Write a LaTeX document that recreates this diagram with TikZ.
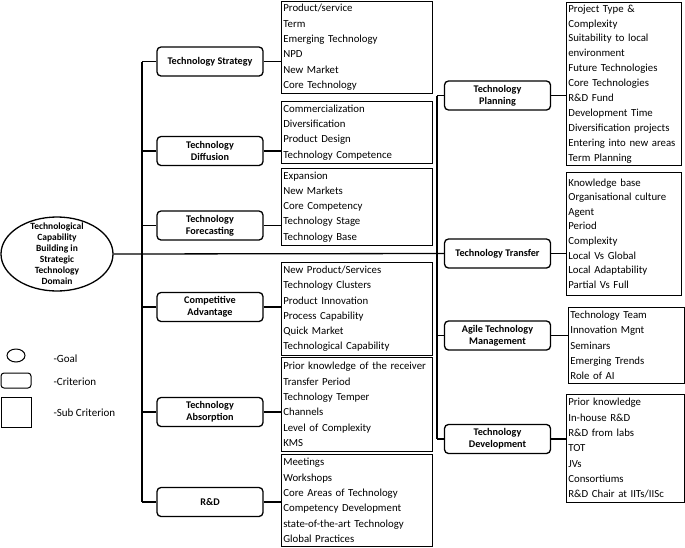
\documentclass[tikz,border=0pt]{standalone}
\usepackage{fontspec}
\setmainfont{Carlito}
\usetikzlibrary{shapes.geometric}

\begin{document}
\begin{tikzpicture}[x=1pt,y=-1pt,
  crit/.style={draw, line width=1.3pt, rounded corners=4pt, minimum width=106pt, minimum height=29pt, inner sep=1pt, align=center, font=\fontsize{10.2}{12}\selectfont\bfseries},
  sub/.style={draw, line width=0.7pt, anchor=north west, align=left, inner xsep=2pt, inner ysep=0pt, font=\fontsize{10.8}{15.3}\selectfont},
  conn/.style={line width=1.3pt},
  key/.style={anchor=west, font=\fontsize{11}{12}\selectfont}]
\useasboundingbox (0,0) rectangle (685,547);

% goal
\node[ellipse, draw, line width=1.3pt, minimum width=112pt, minimum height=74pt] (goal) at (57,254) {};
\node[align=center, font=\fontsize{9.5}{11}\selectfont\bfseries] (goaltxt) at (goal) {Technological\\Capability\\Building in\\Strategic\\Technology\\Domain};

% criteria, left
\node[crit] (stg) at (210,61.5) {Technology Strategy};
\node[crit] (dif) at (210,151) {Technology\\Diffusion};
\node[crit] (fore) at (210,225.5) {Technology\\Forecasting};
\node[crit] (com) at (210,307) {Competitive\\Advantage};
\node[crit] (abs) at (210,412) {Technology\\Absorption};
\node[crit] (rnd) at (210,502) {R\&D};

% criteria, right
\node[crit] (pla) at (497.5,95.5) {Technology\\Planning};
\node[crit] (tra) at (497.5,253.5) {Technology Transfer};
\node[crit] (agi) at (497.5,335.5) {Agile Technology\\Management};
\node[crit] (dev) at (497.5,439) {Technology\\Development};

% sub criteria
\node[sub, text width=147pt, minimum height=92pt] (sstg) at (281,1) {Product/service\\Term\\Emerging Technology\\NPD\\New Market\\Core Technology};
\node[sub, text width=147pt, minimum height=62pt] (sdif) at (281,101) {Commercialization\\Diversification\\Product Design\\Technology Competence};
\node[sub, text width=147pt, minimum height=77pt] (sfore) at (281,168) {Expansion\\New Markets\\Core Competency\\Technology Stage\\Technology Base};
\node[sub, text width=147pt, minimum height=93pt] (scom) at (281,262) {New Product/Services\\Technology Clusters\\Product Innovation\\Process Capability\\Quick Market\\Technological Capability};
\node[sub, text width=147pt, minimum height=94pt] (sabs) at (281,357) {Prior knowledge of the receiver\\Transfer Period\\Technology Temper\\Channels\\Level of Complexity\\KMS};
\node[sub, text width=147pt, minimum height=92pt] (srnd) at (281,454) {Meetings\\Workshops\\Core Areas of Technology\\Competency Development\\state-of-the-art Technology\\Global Practices};
\node[sub, text width=111pt, minimum height=163pt, font=\fontsize{10.8}{14.9}\selectfont] (spla) at (566,2) {Project Type \&\\Complexity\\Suitability to local\\environment\\Future Technologies\\Core Technologies\\R\&D Fund\\Development Time\\Diversification projects\\Entering into new areas\\Term Planning};
\node[sub, text width=111pt, minimum height=123pt, font=\fontsize{10.8}{14.6}\selectfont] (stra) at (566,172) {\\[-8pt]Knowledge base\\Organisational culture\\Agent\\Period\\Complexity\\Local Vs Global\\Local Adaptability\\Partial Vs Full};
\node[sub, text width=112pt, minimum height=76pt] (sagi) at (568,307) {Technology Team\\Innovation Mgnt\\Seminars\\Emerging Trends\\Role of AI};
\node[sub, text width=114pt, minimum height=108pt] (sdev) at (566,394) {Prior knowledge\\In-house R\&D\\R\&D from labs\\TOT\\JVs\\Consortiums\\R\&D Chair at IITs/IISc};

% trunks
\coordinate (trl) at (142,0);
\coordinate (trr) at (437,0);
\draw[conn] (stg.west -| trl) -- (rnd.west -| trl);
\draw[conn] (pla.west -| trr) -- (dev.west -| trr);
\foreach \c in {stg,dif,fore,com,abs,rnd}
  \draw[conn] (\c.west) -- (\c.west -| trl);
\foreach \c in {pla,agi,dev}
  \draw[conn] (\c.west) -- (\c.west -| trr);
\foreach \c/\s in {stg/sstg,dif/sdif,fore/sfore,com/scom,abs/sabs,rnd/srnd,pla/spla,tra/stra,agi/sagi,dev/sdev}
  \draw[conn] (\c.east) -- (\c.east -| \s.west);
\draw[conn] (goal.east) -- (tra.west);

% legend
\node[ellipse, draw, line width=1pt, minimum width=18pt, minimum height=13pt, inner sep=0pt] (lgoal) at (16,355.5) {};
\node[draw, line width=1pt, rounded corners=3pt, minimum width=30pt, minimum height=15pt] (lcrit) at (16,380.5) {};
\node[draw, line width=1pt, minimum width=30pt, minimum height=30pt] (lsub) at (16,412) {};
\node[key] (kgoal) at (50,359) {-Goal};
\node[key] (kcrit) at (50,382) {-Criterion};
\node[key] (ksub) at (50,413) {-Sub Criterion};
\end{tikzpicture}
\end{document}
